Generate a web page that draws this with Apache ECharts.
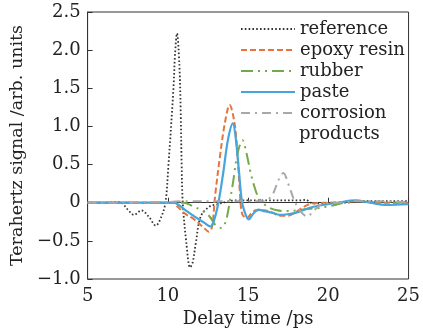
<!DOCTYPE html>
<html>
<head>
<meta charset="utf-8">
<script src="https://cdn.jsdelivr.net/npm/echarts@6/dist/echarts.min.js"></script>
<style>html,body{margin:0;padding:0;background:#fff;}#c{width:423px;height:335px;}</style>
</head>
<body>
<div id="c"></div>
<script>
// ---- data (delay time /ps, signal /arb. units) ----
const seriesNames = ['reference', 'epoxy resin', 'rubber', 'paste', 'corrosion products'];
const xTicks = [5, 10, 15, 20, 25];
const yTicks = [-1.0, -0.5, 0, 0.5, 1.0, 1.5, 2.0, 2.5];

const referenceX = [5, 6, 6.7, 7.1, 7.5, 7.9, 8.35, 8.8, 9.25, 9.6, 9.85, 10.04, 10.35, 10.45, 10.57, 10.72, 10.8, 10.86, 10.93, 11.15, 11.39, 11.55, 11.75, 12.05, 12.6, 13.1, 13.6, 14.2, 18.3, 18.6, 18.9, 19.5, 21, 22.5, 25];
const referenceY = [0, 0, 0.01, 0.0, -0.09, -0.16, -0.10, -0.18, -0.30, -0.18, 0.0, 0.5, 1.5, 1.95, 2.22, 1.8, 1.2, 0.5, 0.0, -0.52, -0.85, -0.78, -0.52, -0.18, -0.05, -0.02, 0.01, 0.03, 0.03, 0.04, 0.0, -0.01, 0.0, 0.02, 0.02];

const epoxyX = [5, 10.3, 10.5, 11.05, 11.65, 12.25, 12.55, 12.75, 12.95, 13.25, 13.55, 13.85, 14.15, 14.35, 14.48, 14.64, 14.94, 15.2, 15.5, 16.0, 16.5, 17.0, 17.5, 18.0, 18.5, 19.0, 20, 21, 22, 23, 25];
const epoxyY = [0, 0, -0.03, -0.14, -0.22, -0.33, -0.38, -0.32, 0.1, 0.61, 1.04, 1.28, 1.05, 0.61, 0.17, -0.15, -0.2, -0.14, -0.1, -0.1, -0.13, -0.17, -0.17, -0.12, -0.05, -0.01, 0, 0.01, 0.02, 0, 0];

const rubberX = [5, 11.0, 11.5, 12.1, 12.6, 13.0, 13.35, 13.6, 13.85, 14.05, 14.35, 14.65, 14.9, 15.15, 15.44, 15.7, 16.2, 16.8, 17.5, 18.1, 18.8, 19.4, 20.2, 21.6, 22.5, 25];
const rubberY = [0, 0, -0.04, -0.1, -0.18, -0.3, -0.33, -0.25, 0.0, 0.25, 0.65, 0.82, 0.65, 0.4, 0.18, 0.05, -0.05, -0.1, -0.11, -0.1, -0.08, -0.07, -0.04, 0.02, 0.01, 0];

const pasteX = [5, 10.4, 10.6, 11.05, 11.65, 12.25, 12.65, 12.85, 13.15, 13.45, 13.75, 14.05, 14.24, 14.44, 14.6, 14.74, 15.04, 15.3, 15.64, 16.0, 16.5, 17.04, 17.5, 18.0, 18.8, 19.4, 20.6, 21.7, 22.6, 23.6, 25];
const pasteY = [0, 0, -0.02, -0.09, -0.18, -0.26, -0.31, -0.25, 0.0, 0.39, 0.83, 1.04, 0.83, 0.39, 0.04, -0.09, -0.22, -0.15, -0.09, -0.11, -0.13, -0.16, -0.15, -0.13, -0.07, -0.04, 0, 0.03, 0, -0.03, -0.02];

const corrosionX = [5, 10, 11, 16.0, 16.5, 16.9, 17.2, 17.5, 17.9, 18.3, 18.7, 19.1, 19.6, 20.5, 22, 25];
const corrosionY = [0, 0.01, 0.02, 0.02, 0.1, 0.3, 0.39, 0.25, 0.02, -0.12, -0.18, -0.1, -0.02, 0, 0.02, 0.01];

const zip = (xs, ys) => xs.map((x, i) => [x, ys[i]]);
const FONT = 'DejaVu Serif';
const fmtY = v => (v === 0 ? '0' : (v < 0 ? '\u2212' + Math.abs(v).toFixed(1) : v.toFixed(1)));

const styles = [
  { color: '#333333', width: 1.8, type: [1.6, 2.2] },
  { color: '#E8743B', width: 2, type: [6, 3] },
  { color: '#72AA46', width: 2, type: [12, 5, 2, 5, 2, 5] },
  { color: '#45A5DC', width: 2.2, type: 'solid' },
  { color: '#A8A8A8', width: 2, type: [9, 5, 2, 5] }
];
const dataSets = [zip(referenceX, referenceY), zip(epoxyX, epoxyY), zip(rubberX, rubberY), zip(pasteX, pasteY), zip(corrosionX, corrosionY)];

const chart = echarts.init(document.getElementById('c'), null, { renderer: 'canvas' });
chart.setOption({
  animation: false,
  backgroundColor: '#fff',
  grid: { left: 79, right: 10, top: 12, bottom: 56, show: true, borderColor: '#333', borderWidth: 1, backgroundColor: 'transparent' },
  xAxis: {
    type: 'value', min: 5, max: 25, interval: 5,
    name: 'Delay time /ps', nameLocation: 'middle', nameGap: 29,
    nameTextStyle: { fontFamily: FONT, fontSize: 18, color: '#222' },
    axisLine: { lineStyle: { color: '#333', width: 1 } },
    axisTick: { inside: true, length: 5, lineStyle: { color: '#333' } },
    axisLabel: { fontFamily: FONT, fontSize: 18, color: '#222', margin: 8 },
    splitLine: { show: false }
  },
  yAxis: {
    type: 'value', min: -1.0, max: 2.5, interval: 0.5,
    name: 'Terahertz signal /arb. units', nameLocation: 'middle', nameGap: 47,
    nameTextStyle: { fontFamily: FONT, fontSize: 17.5, color: '#222' },
    axisLine: { lineStyle: { color: '#333', width: 1 } },
    axisTick: { inside: true, length: 5, lineStyle: { color: '#333' } },
    axisLabel: { fontFamily: FONT, fontSize: 18, color: '#222', margin: 7, formatter: fmtY },
    splitLine: { show: false }
  },
  legend: {
    orient: 'vertical', left: 240, top: 19, padding: 0,
    itemWidth: 54, itemHeight: 14, itemGap: 1,
    data: seriesNames,
    itemStyle: { opacity: 0 },
    formatter: n => (n === 'corrosion products' ? 'corrosion' : n),
    textStyle: { fontFamily: FONT, fontSize: 18, color: '#222', lineHeight: 20 }
  },
  graphic: [{
    type: 'text', left: 299, top: 125,
    style: { text: 'products', fontFamily: FONT, fontSize: 18, fill: '#222' }
  }],
  series: seriesNames.map((n, i) => ({
    name: n, type: 'line', data: dataSets[i], symbol: 'none', smooth: 0.35,
    lineStyle: styles[i], itemStyle: { color: styles[i].color }, z: 2 + i
  }))
});
</script>
</body>
</html>
